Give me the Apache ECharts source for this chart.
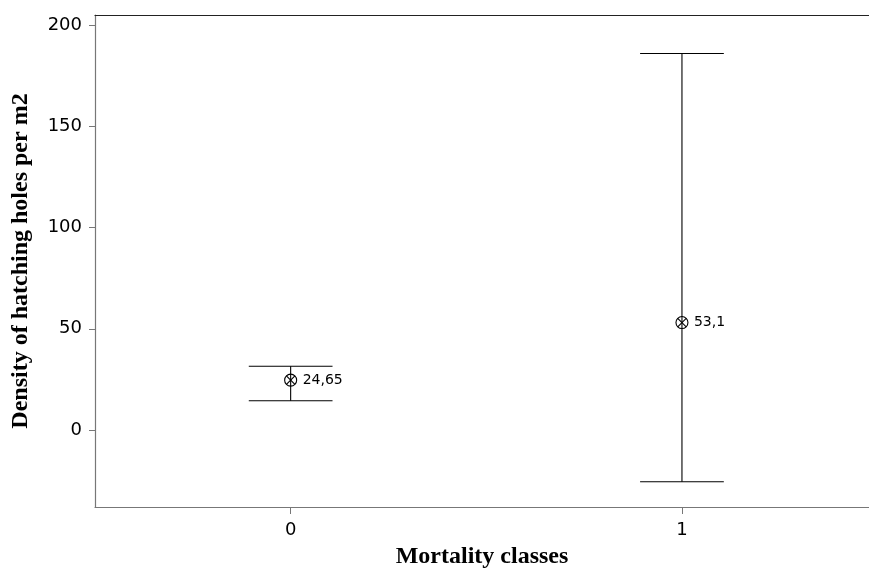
<!DOCTYPE html>
<html>
<head>
<meta charset="utf-8">
<script src="https://cdn.jsdelivr.net/npm/echarts@6/dist/echarts.min.js"></script>
<style>
  html, body { margin: 0; padding: 0; background: #fff; }
  #chart { width: 869px; height: 572px; }
</style>
</head>
<body>
<div id="chart"></div>
<script>
// mortality classes and their mean / interval ends
const classes = [0, 1]
const means = [24.65, 53.1]
const upperEnds = [31.5, 186]
const lowerEnds = [14.5, -25.5]
const meanLabels = ['24,65', '53,1']
const yTicks = [0, 50, 100, 150, 200]
const xTicks = [0, 1]

const tickFont = 'DejaVu Sans'
const titleFont = 'Liberation Serif'

const chart = echarts.init(document.getElementById('chart'))

const barData = classes.map((c, i) => [c, means[i], lowerEnds[i], upperEnds[i], meanLabels[i]])

const renderErrorBar = (params, api) => {
  const x = api.value(0)
  const pm = api.coord([x, api.value(1)])
  const pl = api.coord([x, api.value(2)])
  const ph = api.coord([x, api.value(3)])
  const half = api.size([0.107, 0])[0]
  const r = 6
  const d = r * 0.707
  const stroke = { stroke: '#000', lineWidth: 1.1 }
  return {
    type: 'group',
    children: [
      { type: 'line', shape: { x1: pl[0], y1: pl[1], x2: ph[0], y2: ph[1] }, style: stroke },
      { type: 'line', shape: { x1: ph[0] - half, y1: ph[1], x2: ph[0] + half, y2: ph[1] }, style: stroke },
      { type: 'line', shape: { x1: pl[0] - half, y1: pl[1], x2: pl[0] + half, y2: pl[1] }, style: stroke },
      { type: 'circle', shape: { cx: pm[0], cy: pm[1], r: r }, style: { fill: 'none', stroke: '#000', lineWidth: 1.1 } },
      { type: 'line', shape: { x1: pm[0] - d, y1: pm[1] - d, x2: pm[0] + d, y2: pm[1] + d }, style: stroke },
      { type: 'line', shape: { x1: pm[0] - d, y1: pm[1] + d, x2: pm[0] + d, y2: pm[1] - d }, style: stroke },
      {
        type: 'text',
        x: pm[0] + 12,
        y: pm[1],
        style: {
          text: api.value(4),
          fill: '#000',
          font: '14px "' + tickFont + '"',
          verticalAlign: 'middle',
          align: 'left'
        }
      }
    ]
  }
}

const option = {
  backgroundColor: '#fff',
  animation: false,
  grid: { left: 95, right: 0, top: 15, bottom: 65, outerBoundsMode: 'none' },
  xAxis: [
    {
      type: 'value',
      min: -0.5,
      max: 1.478,
      name: 'Mortality classes',
      nameLocation: 'middle',
      nameGap: 38,
      nameTextStyle: { fontFamily: titleFont, fontWeight: 'bold', fontSize: 24, color: '#000' },
      axisLine: { show: true, onZero: false, lineStyle: { color: '#777', width: 1.2 } },
      axisTick: { show: true, length: 7, customValues: xTicks, lineStyle: { color: '#777' } },
      axisLabel: { customValues: xTicks, margin: 14, fontFamily: tickFont, fontSize: 18, color: '#000' },
      splitLine: { show: false }
    },
    {
      type: 'value',
      position: 'top',
      min: -0.5,
      max: 1.478,
      axisLine: { show: true, onZero: false, lineStyle: { color: '#222', width: 1.2 } },
      axisTick: { show: false },
      axisLabel: { show: false },
      splitLine: { show: false }
    }
  ],
  yAxis: {
    type: 'value',
    min: -38,
    max: 205,
    name: 'Density of hatching holes per m2',
    nameLocation: 'middle',
    nameGap: 62,
    nameTextStyle: { fontFamily: titleFont, fontWeight: 'bold', fontSize: 24, color: '#000' },
    axisLine: { show: true, onZero: false, lineStyle: { color: '#777', width: 1.2 } },
    axisTick: { show: true, length: 6, customValues: yTicks, lineStyle: { color: '#777' } },
    axisLabel: { customValues: yTicks, margin: 13, fontFamily: tickFont, fontSize: 18, color: '#000' },
    splitLine: { show: false }
  },
  series: [
    {
      type: 'custom',
      xAxisIndex: 0,
      renderItem: renderErrorBar,
      encode: { x: 0, y: [1, 2, 3] },
      data: barData
    }
  ]
}

chart.setOption(option)
window.addEventListener('resize', () => chart.resize())
</script>
</body>
</html>
